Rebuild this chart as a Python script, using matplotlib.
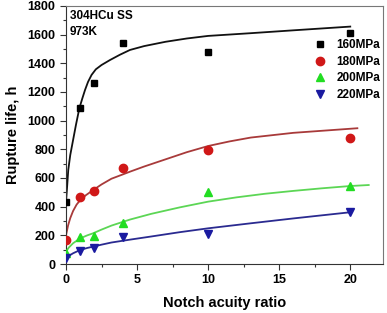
import matplotlib
matplotlib.use("Agg")
import matplotlib.pyplot as plt
from matplotlib.ticker import MultipleLocator

plt.rcParams['font.family'] = ['Liberation Sans', 'DejaVu Sans']
plt.rcParams['font.weight'] = 'bold'

# Measured data (notch acuity ratio vs rupture life, h)
x_data = [0, 1, 2, 4, 10, 20]
y_160 = [430, 1085, 1265, 1540, 1480, 1610]
y_180 = [170, 470, 510, 670, 795, 881]
y_200 = [80, 185, 195, 285, 500, 546]
y_220 = [40, 90, 110, 190, 207, 363]

# Fitted curves
fit_x_160 = [0, 0.08, 0.16, 0.3, 0.5, 0.7, 0.94, 1.15, 1.34, 1.55, 1.8, 2.1, 2.5, 3.1,
             3.8, 4.5, 5.5, 7, 8.5, 10, 13, 16, 20]
fit_y_160 = [430, 540, 656, 760, 865, 970, 1086, 1155, 1214, 1270, 1319, 1358, 1388, 1423,
             1460, 1493, 1520, 1550, 1573, 1591, 1610, 1630, 1656]
fit_x_180 = [0, 0.15, 0.3, 0.5, 0.75, 1, 1.4, 1.9, 2.5, 3.2, 4, 4.5, 5.5, 7, 8.5, 10,
             11.5, 13, 16, 20.5]
fit_y_180 = [200, 270, 320, 370, 415, 445, 480, 515, 555, 595, 625, 644, 680, 730, 780, 823,
             855, 882, 915, 947]
fit_x_200 = [0, 0.2, 0.5, 1, 1.5, 1.9, 2.5, 3.2, 4.5, 6, 8, 10, 12, 14, 16, 18, 20, 21.3]
fit_y_200 = [86, 115, 145, 179, 200, 214, 240, 268, 310, 350, 395, 435, 465, 490, 510, 528,
             544, 551]
fit_x_220 = [0, 0.2, 0.5, 1, 1.5, 1.9, 2.5, 3.2, 4.5, 6, 8, 10, 13, 16, 20]
fit_y_220 = [40, 57, 75, 98, 112, 121, 135, 150, 170, 192, 222, 249, 284, 318, 361]

labels = ['160MPa', '180MPa', '200MPa', '220MPa']

fig = plt.figure(figsize=(3.87, 3.13), dpi=100)
ax = fig.add_axes([0.1705, 0.1565, 0.819, 0.8245])

series = [
    (y_160, fit_x_160, fit_y_160, 's', '#000000', '#111111', 5),
    (y_180, fit_x_180, fit_y_180, 'o', '#d01818', '#a83a3a', 6),
    (y_200, fit_x_200, fit_y_200, '^', '#22dd22', '#5cd655', 6),
    (y_220, fit_x_220, fit_y_220, 'v', '#1a1aa0', '#2a2a90', 6),
]
handles = []
for (yd, fx, fy, m, mc, lc, ms), lab in zip(series, labels):
    ax.plot(fx, fy, '-', color=lc, lw=1.3, zorder=2)
    h, = ax.plot(x_data, yd, m, color=mc, ms=ms, ls='none', label=lab, zorder=3)
    handles.append(h)

ax.set_xlim(0, 22.3)
ax.set_ylim(0, 1800)
ax.xaxis.set_major_locator(MultipleLocator(5))
ax.xaxis.set_minor_locator(MultipleLocator(2.5))
ax.yaxis.set_major_locator(MultipleLocator(200))
ax.yaxis.set_minor_locator(MultipleLocator(100))
ax.tick_params(which='major', direction='out', length=4, width=0.8, labelsize=9, color='#333333')
ax.tick_params(which='minor', direction='out', length=2, width=0.8, color='#333333')
for lbl in ax.get_xticklabels() + ax.get_yticklabels():
    lbl.set_fontweight('bold')
for s in ['left', 'bottom']:
    ax.spines[s].set_color('#333333')
for s in ['top', 'right']:
    ax.spines[s].set_color('#777777')

ax.set_xlabel('Notch acuity ratio', fontsize=10.5, fontweight='bold', labelpad=7)
ax.set_ylabel('Rupture life, h', fontsize=10.5, fontweight='bold', labelpad=5)

ax.text(0.012, 0.985, '304HCu SS\n973K', transform=ax.transAxes, ha='left', va='top',
        fontsize=8.5, fontweight='bold', linespacing=1.45)

leg = fig.legend(handles=handles, labels=labels, loc='upper left',
                 bbox_to_anchor=(314 / 387, 1 - 39 / 313), frameon=False,
                 fontsize=8.5, handletextpad=0.9, labelspacing=0.4, handlelength=1.0,
                 borderaxespad=0, borderpad=0)
for t in leg.get_texts():
    t.set_fontweight('bold')

fig.savefig('out.png', dpi=100)
